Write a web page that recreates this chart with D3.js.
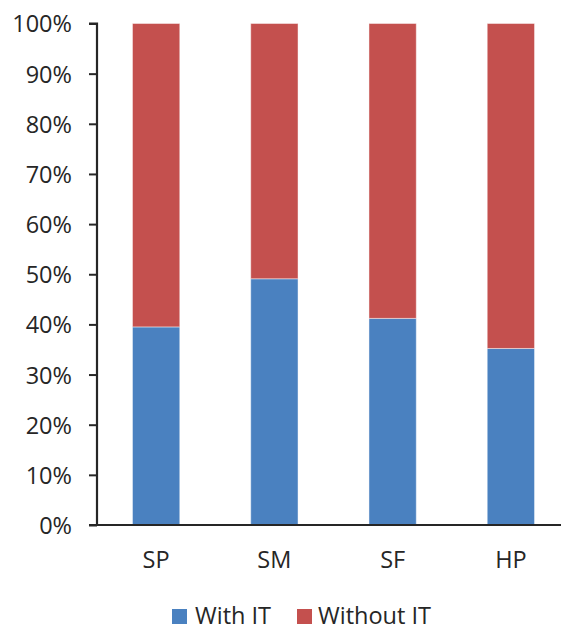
<!DOCTYPE html>
<html>
<head>
<meta charset="utf-8">
<script src="https://cdn.jsdelivr.net/npm/d3@7"></script>
<style>
  html, body { margin: 0; padding: 0; background: #fff; }
  svg { display: block; }
  svg text { font-family: "Open Sans", Lato, sans-serif; }
</style>
</head>
<body>
<svg id="chart" width="561" height="625"></svg>
<script>
// Share of firms with and without IT, by group
const categories = ["SP", "SM", "SF", "HP"];
const withIT = [39.5, 49.1, 41.2, 35.2];
const withoutIT = [60.5, 50.9, 58.8, 64.8];
const seriesNames = ["With IT", "Without IT"];
const seriesColors = ["#4A81C0", "#C4504E"];
const yTicks = [0, 10, 20, 30, 40, 50, 60, 70, 80, 90, 100];

(function () {
  const svg = d3.select("#chart");
  const plotLeft = 97, plotRight = 570, plotTop = 23.5, plotBottom = 525;
  const fontSize = "23.5px";
  const ink = "#262626";

  const x = d3.scaleBand().domain(categories).range([plotLeft, plotRight])
    .paddingInner(0.6).paddingOuter(0.3);
  const y = d3.scaleLinear().domain([0, 100]).range([plotBottom, plotTop]);

  const rows = categories.map((c, i) => ({ cat: c, "With IT": withIT[i], "Without IT": withoutIT[i] }));
  const stacked = d3.stack().keys(seriesNames)(rows);

  svg.append("g").selectAll("g").data(stacked).join("g")
    .attr("fill", (d, i) => seriesColors[i])
    .selectAll("rect").data(d => d).join("rect")
    .attr("x", d => x(d.data.cat))
    .attr("width", x.bandwidth())
    .attr("y", d => y(d[1]))
    .attr("height", d => y(d[0]) - y(d[1]))
    .attr("stroke", "#ffffff")
    .attr("stroke-opacity", 0.45)
    .attr("stroke-width", 1);

  // Y axis
  const yAxis = svg.append("g").attr("transform", `translate(${plotLeft},0)`)
    .call(d3.axisLeft(y).tickValues(yTicks).tickFormat(d => d + "%").tickSize(8).tickPadding(17));
  yAxis.attr("font-family", null).attr("font-size", null);
  yAxis.select(".domain").attr("stroke", ink).attr("stroke-width", 2.2)
    .attr("d", `M-8,${plotTop}H0V${plotBottom}`);
  yAxis.selectAll(".tick line").attr("stroke", ink).attr("stroke-width", 2);
  yAxis.selectAll(".tick text").attr("fill", ink).style("font-size", fontSize)
    .attr("dy", "0.36em");

  // X axis baseline and category labels
  const xAxis = svg.append("g").attr("transform", `translate(0,${plotBottom})`)
    .call(d3.axisBottom(x).tickSize(0).tickPadding(26));
  xAxis.attr("font-family", null).attr("font-size", null);
  xAxis.select(".domain").attr("stroke", ink).attr("stroke-width", 2.2)
    .attr("d", `M${plotLeft - 8},0H${plotRight}`);
  xAxis.selectAll(".tick text").attr("fill", ink).style("font-size", fontSize);

  // Legend
  const legendItems = [
    { name: seriesNames[0], color: seriesColors[0], sx: 172, tx: 195 },
    { name: seriesNames[1], color: seriesColors[1], sx: 297, tx: 318 }
  ];
  const lg = svg.append("g");
  lg.selectAll("rect").data(legendItems).join("rect")
    .attr("x", d => d.sx).attr("y", 609).attr("width", 15).attr("height", 15)
    .attr("fill", d => d.color);
  lg.selectAll("text").data(legendItems).join("text")
    .attr("x", d => d.tx).attr("y", 624)
    .attr("fill", ink).style("font-size", fontSize)
    .text(d => d.name);
})();
</script>
</body>
</html>
